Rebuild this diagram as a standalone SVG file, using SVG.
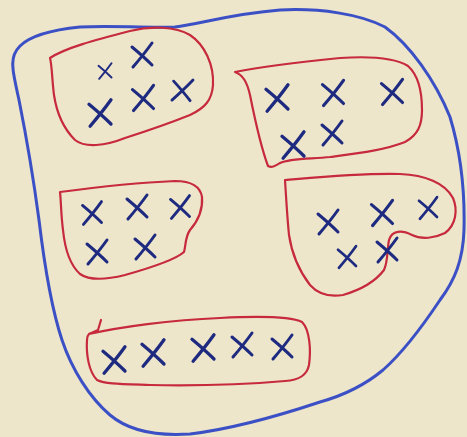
<svg xmlns="http://www.w3.org/2000/svg" xmlns:xlink="http://www.w3.org/1999/xlink" width="467" height="437" viewBox="0 0 467 437">
<style>
.bg{fill:#eee6ca}
.outer{fill:none;stroke:#3c50c6;stroke-width:3;stroke-linecap:round;stroke-linejoin:round}
.set{fill:none;stroke:#c62a3c;stroke-width:2.2;stroke-linecap:round;stroke-linejoin:round}
.xm{fill:none;stroke:#1d2a80;stroke-width:3;stroke-linecap:round;stroke-linejoin:round}
</style>
<defs>
<path id="x" class="xm" d="M10,-12 C5,-5 -3,5 -9,12 M-10,-8 C-4,-3 4,4 10,10"/>
</defs>
<rect class="bg" x="0" y="0" width="467" height="437"/>
<g id="universe">
<path class="outer" d="M13,68 C12,60 14,52 20,46 C30,36 50,30 80,27 C110,25 140,28 175,27 C200,24 230,14 280,10 C320,8 360,14 385,27 C410,45 435,80 450,117 C460,150 465,190 464,230 C463,260 455,280 440,300 C420,330 400,355 383,370 C365,385 345,395 320,402 C290,412 240,428 190,434 C160,436 130,432 110,415 C90,398 72,370 62,340 C52,310 45,270 39,220 C33,175 26,135 19,100 C15,82 13,72 13,68"/>
</g>
<g id="set1">
<path class="set" d="M50,58 C65,48 95,40 130,31 C150,26 175,26 190,35 C205,45 214,65 213,85 C212,100 205,108 190,115 C170,123 150,130 125,138 C105,146 85,148 75,140 C65,130 57,115 54,95 C52,80 52,65 50,58 Z"/>
<use href="#x" transform="translate(105,71) scale(0.65)"/>
<use href="#x" transform="translate(142,55) scale(1)"/>
<use href="#x" transform="translate(100,113) scale(1.1)"/>
<use href="#x" transform="translate(143,98) scale(1.05)"/>
<use href="#x" transform="translate(182,90) rotate(8) scale(0.95)"/>
</g>
<g id="set2">
<path class="set" d="M235,72 C260,67 300,62 340,58 C370,56 395,58 408,66 C418,75 422,90 422,110 C422,125 418,135 405,142 C385,150 360,153 330,157 C310,159 290,158 280,163 C275,166 272,168 268,166 C262,150 255,120 250,95 C247,82 243,75 235,72 Z"/>
<use href="#x" transform="translate(277,98) scale(1.1)"/>
<use href="#x" transform="translate(333,93) scale(1.05)"/>
<use href="#x" transform="translate(392,92) scale(1.05)"/>
<use href="#x" transform="translate(293,145) scale(1.1)"/>
<use href="#x" transform="translate(332,133) scale(1)"/>
</g>
<g id="set3">
<path class="set" d="M60,192 C90,188 130,183 175,181 C190,181 200,185 202,197 C203,210 197,222 190,230 C185,237 186,245 184,252 C175,260 150,268 125,275 C105,280 90,281 80,274 C70,265 65,250 63,230 C61,215 61,200 60,192 Z"/>
<use href="#x" transform="translate(92,213) scale(0.95)"/>
<use href="#x" transform="translate(137,207) scale(1)"/>
<use href="#x" transform="translate(180,207) scale(0.95)"/>
<use href="#x" transform="translate(97,252) scale(1)"/>
<use href="#x" transform="translate(145,247) scale(1)"/>
</g>
<g id="set4">
<path class="set" d="M285,180 C320,177 360,173 400,174 C425,175 445,183 453,198 C458,210 456,225 445,233 C435,238 422,240 412,235 C402,230 392,230 389,240 C387,250 388,262 384,270 C375,282 360,290 343,295 C330,297 318,294 310,285 C300,272 292,255 289,235 C287,215 286,195 285,180 Z"/>
<use href="#x" transform="translate(328,222) scale(1)"/>
<use href="#x" transform="translate(382,213) scale(1.05)"/>
<use href="#x" transform="translate(428,208) scale(0.9)"/>
<use href="#x" transform="translate(347,257) scale(0.9)"/>
<use href="#x" transform="translate(387,250) scale(1)"/>
</g>
<g id="set5">
<path class="set" d="M101,320 L98,330 L89,334 C120,327 170,320 220,318 C260,316 290,316 302,322 C310,330 311,350 309,365 C307,375 300,380 285,381 C250,384 200,386 150,385 C120,384 105,384 97,380 C89,372 86,355 87,340 C87,337 88,335 89,334"/>
<use href="#x" transform="translate(114,360) scale(1.1)"/>
<use href="#x" transform="translate(153,353) scale(1.1)"/>
<use href="#x" transform="translate(203,348) scale(1.1)"/>
<use href="#x" transform="translate(242,345) scale(1)"/>
<use href="#x" transform="translate(282,347) scale(1)"/>
</g>
</svg>
